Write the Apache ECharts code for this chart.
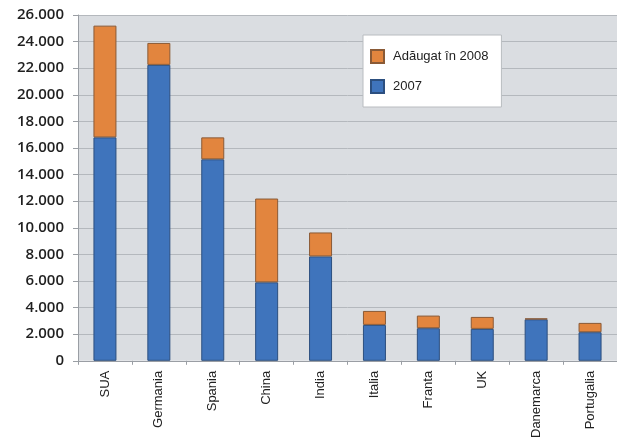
<!DOCTYPE html>
<html>
<head>
<meta charset="utf-8">
<script src="https://cdn.jsdelivr.net/npm/echarts@6/dist/echarts.min.js"></script>
<style>
  html, body { margin: 0; padding: 0; background: #fff; }
  #chart { width: 617px; height: 441px; }
</style>
</head>
<body>
<div id="chart"></div>
<script>
// tari si capacitate (MW)
var tari = ['SUA', 'Germania', 'Spania', 'China', 'India', 'Italia', 'Franta', 'UK', 'Danemarca', 'Portugalia'];
var an2007 = [16800, 22250, 15150, 5900, 7850, 2700, 2450, 2400, 3120, 2150];
var adaugat2008 = [8400, 1650, 1650, 6300, 1800, 1050, 950, 900, 60, 700];
var yTicks = [0, 2000, 4000, 6000, 8000, 10000, 12000, 14000, 16000, 18000, 20000, 22000, 24000, 26000];

var myChart = echarts.init(document.getElementById('chart'));

function fmt(v) {
    if (v === 0) return '0';
    return Math.floor(v / 1000) + '.' + ('00' + (v % 1000)).slice(-3);
}

var option = {
    animation: false,
    backgroundColor: '#fff',
    grid: {
        left: 78, top: 15, bottom: 79, right: -9,
        show: true,
        backgroundColor: '#dadde1',
        borderWidth: 0
    },
    legend: {
        data: ['Adăugat în 2008', '2007'],
        orient: 'vertical',
        left: 363, top: 35,
        padding: [14, 13, 13, 7],
        itemGap: 15,
        itemWidth: 13, itemHeight: 13,
        backgroundColor: '#fff',
        borderColor: '#b9bcc0',
        borderWidth: 1,
        icon: 'rect',
        textStyle: { fontFamily: 'Liberation Sans', fontSize: 13, color: '#222', padding: [0, 0, 0, 4] }
    },
    xAxis: {
        type: 'category',
        data: tari,
        axisLine: { lineStyle: { color: '#9a9ea4' } },
        axisTick: { show: true, length: 4, lineStyle: { color: '#9a9ea4' } },
        axisLabel: {
            rotate: 90,
            margin: 10,
            fontFamily: 'Liberation Sans',
            fontSize: 13,
            color: '#222'
        }
    },
    yAxis: {
        type: 'value',
        min: 0, max: yTicks[yTicks.length - 1], interval: 2000,
        axisLine: { show: true, lineStyle: { color: '#9a9ea4' } },
        axisTick: { show: true, inside: false, length: 5, lineStyle: { color: '#9a9ea4' } },
        splitLine: { lineStyle: { color: '#b4b8bd', width: 1 } },
        axisLabel: {
            formatter: fmt,
            margin: 14,
            fontFamily: 'Open Sans',
            fontSize: 15,
            fontWeight: 600,
            color: '#1f1f1f'
        }
    },
    series: [
        {
            name: '2007',
            type: 'bar',
            stack: 'total',
            barWidth: 23,
            data: an2007,
            itemStyle: { color: '#3f74bc', borderColor: '#2c4f7f', borderWidth: 1 }
        },
        {
            name: 'Adăugat în 2008',
            type: 'bar',
            stack: 'total',
            barWidth: 23,
            data: adaugat2008,
            itemStyle: { color: '#e2853e', borderColor: '#8a5a36', borderWidth: 1 }
        }
    ]
};
myChart.setOption(option);
</script>
</body>
</html>
